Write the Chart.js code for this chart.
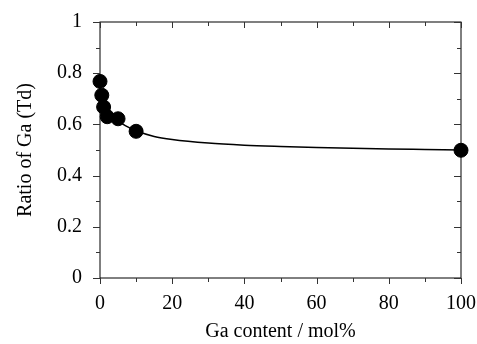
<!DOCTYPE html>
<html>
<head>
<meta charset="utf-8">
<script src="https://cdn.jsdelivr.net/npm/chart.js@4/dist/chart.umd.min.js"></script>
<style>
  body { margin: 0; background: #fff; }
  #wrap { width: 477px; height: 344px; }
</style>
</head>
<body>
<div id="wrap"><canvas id="myChart" width="477" height="344"></canvas></div>
<script>
// measured points
const gaContent = [0, 0.5, 1, 2, 5, 10, 100]
const gaRatio = [0.768, 0.714, 0.668, 0.63, 0.622, 0.573, 0.499]

// fitted curve
const fitX = [2, 3, 5, 7, 10, 15, 20, 30, 40, 50, 60, 70, 80, 90, 100]
const fitY = [0.64, 0.632, 0.613, 0.595, 0.575, 0.553, 0.541, 0.527, 0.519, 0.514, 0.51, 0.507, 0.504, 0.502, 0.5]

const xTitle = 'Ga content / mol%'
const yTitle = 'Ratio of Ga (Td)'

const serif = "'Liberation Serif', 'Times New Roman', serif"

// frame + ticks, all ticks point left/down like the original
const frameTicks = {
  id: 'frameTicks',
  beforeDatasetsDraw(chart) {
    const {ctx, chartArea: a, scales} = chart
    ctx.save()
    ctx.strokeStyle = '#000'
    ctx.lineWidth = 1
    ctx.strokeRect(a.left, a.top, a.right - a.left, a.bottom - a.top)
    ctx.strokeStyle = '#333'
    ctx.beginPath()
    for (let v = 0; v <= 100; v += 10) {
      const px = Math.round(scales.x.getPixelForValue(v)) + 0.5
      const len = v % 20 === 0 ? 6 : 4
      ctx.moveTo(px, a.bottom); ctx.lineTo(px, a.bottom + len)
      ctx.moveTo(px, a.top); ctx.lineTo(px, a.top + len)
    }
    for (let i = 0; i <= 10; i++) {
      const py = Math.round(scales.y.getPixelForValue(i / 10)) + 0.5
      const len = i % 2 === 0 ? 7 : 4
      ctx.moveTo(a.left, py); ctx.lineTo(a.left - len, py)
      ctx.moveTo(a.right, py); ctx.lineTo(a.right - len, py)
    }
    ctx.stroke()
    ctx.restore()
  }
}

new Chart('myChart', {
  type: 'scatter',
  data: {
    datasets: [{
      type: 'line',
      data: fitX.map((x, i) => ({x: x, y: fitY[i]})),
      borderColor: '#000',
      borderWidth: 1.5,
      pointRadius: 0,
      cubicInterpolationMode: 'monotone',
      fill: false,
      order: 2
    }, {
      data: gaContent.map((x, i) => ({x: x, y: gaRatio[i]})),
      backgroundColor: '#000',
      borderColor: '#000',
      pointRadius: 7,
      clip: false,
      order: 1
    }]
  },
  options: {
    responsive: false,
    animation: false,
    layout: { padding: { left: 14, top: 16, right: 16, bottom: 0 } },
    plugins: { legend: { display: false }, tooltip: { enabled: false } },
    scales: {
      x: {
        type: 'linear', min: 0, max: 100,
        grid: { display: false },
        border: { display: false },
        ticks: { stepSize: 20, padding: 6, color: '#000', font: { family: serif, size: 20 } },
        title: { display: true, text: xTitle, color: '#000', padding: { top: 0, bottom: 0 }, font: { family: serif, size: 20 } },
        afterFit(scale) {
          scale.height = 66
          scale.paddingLeft = 0
          scale.paddingRight = 0
        }
      },
      y: {
        min: 0, max: 1,
        grid: { display: false },
        border: { display: false },
        ticks: { stepSize: 0.2, padding: 10, color: '#000', font: { family: serif, size: 20 },
          callback: (v) => String(Math.round(v * 10) / 10) },
        title: { display: true, text: yTitle, color: '#000', padding: { top: 0, bottom: 0 }, font: { family: serif, size: 20 } },
        afterFit(scale) { scale.width = 86 }
      }
    }
  },
  plugins: [frameTicks]
})
</script>
</body>
</html>
